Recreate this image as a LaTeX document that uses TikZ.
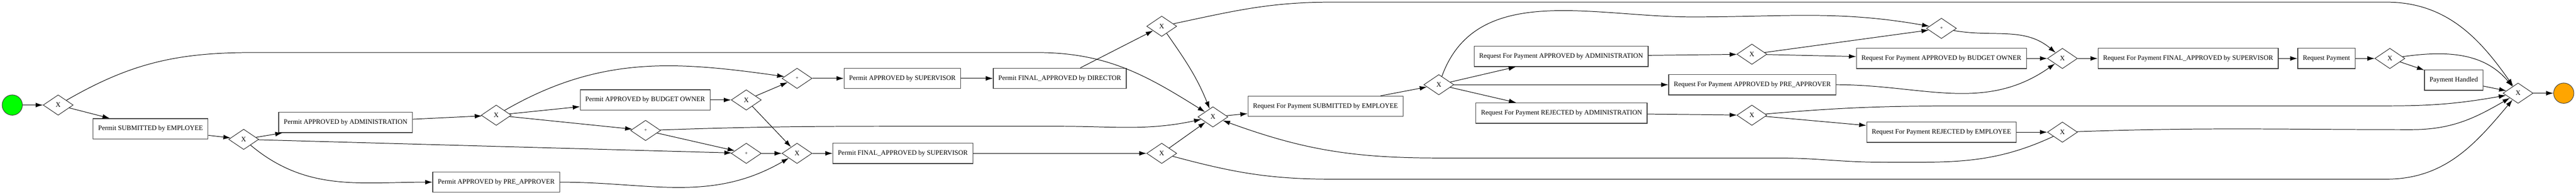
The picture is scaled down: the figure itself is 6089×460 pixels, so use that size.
\documentclass[tikz,border=0pt]{standalone}
\usepackage{fontspec}
\setmainfont{Liberation Serif}
\usetikzlibrary{arrows.meta, shapes.geometric}
\definecolor{endorange}{HTML}{FFA500}
\tikzset{
	task/.style={draw=black!75, line width=0.8pt, fill=white, minimum height=24pt, inner xsep=6pt, inner ysep=0pt, font=\fontsize{8pt}{9pt}\selectfont},
	gate/.style={diamond, draw=black!85, line width=0.6pt, fill=white, minimum width=35.5pt, minimum height=24pt, inner sep=0pt, font=\fontsize{8pt}{9pt}\selectfont},
	andgate/.style={gate, font=\fontsize{6pt}{7pt}\selectfont},
	event/.style={circle, draw=black!75, line width=0.6pt, minimum size=24pt, inner sep=0pt},
	flow/.style={-{Latex[length=8.5pt,width=5.5pt]}, line width=0.6pt}
}
\begin{document}
\begin{tikzpicture}[x=0.5pt, y=0.5pt]
		\useasboundingbox (0,0) rectangle (6089,460);
		\node[event, fill=green] (startEv) at (29,212) {};
		\node[gate] (xa) at (137.5,212) {X};
		\node[task] (subEmp) at (356,156) {Permit SUBMITTED by EMPLOYEE};
		\node[gate] (xb) at (576,131) {X};
		\node[task] (apprAdm) at (817,171) {Permit APPROVED by ADMINISTRATION};
		\node[task] (apprPre) at (1173,30) {Permit APPROVED by PRE\_APPROVER};
		\node[gate] (xc) at (1173,188) {X};
		\node[task] (apprBud) at (1525,224) {Permit APPROVED by BUDGET OWNER};
		\node[andgate] (pb) at (1526,152) {+};
		\node[gate] (xd) at (1764,224) {X};
		\node[andgate] (pa) at (1884,275) {+};
		\node[andgate] (pc) at (1764,98) {+};
		\node[gate] (xe) at (1884,98) {X};
		\node[task] (apprSup) at (2133,275) {Permit APPROVED by SUPERVISOR};
		\node[task] (finDir) at (2505,275) {Permit FINAL\_APPROVED by DIRECTOR};
		\node[task] (finSup) at (2134,98) {Permit FINAL\_APPROVED by SUPERVISOR};
		\node[gate] (xf) at (2746,398) {X};
		\node[gate] (xg) at (2746,98) {X};
		\node[gate] (xm) at (2867,184) {X};
		\node[task] (rfpSub) at (3133,209) {Request For Payment SUBMITTED by EMPLOYEE};
		\node[gate] (xh) at (3401,260) {X};
		\node[task] (rfpAdm) at (3690,327) {Request For Payment APPROVED by ADMINISTRATION};
		\node[task] (rfpPre) at (4142,260) {Request For Payment APPROVED by PRE\_APPROVER};
		\node[task] (rfpRejAdm) at (3691,193) {Request For Payment REJECTED by ADMINISTRATION};
		\node[gate] (xi) at (4141,332) {X};
		\node[andgate] (pd) at (4589,393) {+};
		\node[task] (rfpBud) at (4589,322) {Request For Payment APPROVED by BUDGET OWNER};
		\node[gate] (xj) at (4875,322) {X};
		\node[gate] (xk) at (4141,188) {X};
		\node[task] (rfpRejEmp) at (4589,148) {Request For Payment REJECTED by EMPLOYEE};
		\node[gate] (xl) at (4875,148) {X};
		\node[task] (rfpFin) at (5172,322) {Request For Payment FINAL\_APPROVED by SUPERVISOR};
		\node[task] (reqPay) at (5499,322) {Request Payment};
		\node[gate] (xn) at (5649,322) {X};
		\node[task] (payHand) at (5800,271) {Payment Handled};
		\node[gate] (xend) at (5952,240) {X};
		\node[event, fill=endorange] (endEv) at (6060,240) {};

		\draw[flow] (startEv) -- (xa);
		\draw[flow] (xa) -- (subEmp);
		\draw[flow] (xa) to[out=30,in=180] (600,336) -- (2450,336) to[out=0,in=148] (xm);
		\draw[flow] (subEmp) -- (xb);
		\draw[flow] (xb) -- (apprAdm);
		\draw[flow] (xb) -- (pc);
		\draw[flow] (xb) to[out=-40,in=180] (apprPre);
		\draw[flow] (apprAdm) -- (xc);
		\draw[flow] (xc) to[out=30,in=172] (pa);
		\draw[flow] (xc) -- (apprBud);
		\draw[flow] (xc) -- (pb);
		\draw[flow] (apprBud) -- (xd);
		\draw[flow] (xd) -- (pa);
		\draw[flow] (xd) -- (xe);
		\draw[flow] (pb) -- (pc);
		\draw[flow] (pb) to[out=2,in=180] (2200,162) -- (2500,162) to[out=0,in=192] (xm);
		\draw[flow] (pc) -- (xe);
		\draw[flow] (apprPre) to[out=0,in=210] (xe);
		\draw[flow] (xe) -- (finSup);
		\draw[flow] (pa) -- (apprSup);
		\draw[flow] (apprSup) -- (finDir);
		\draw[flow] (finDir) -- (xf);
		\draw[flow] (finSup) -- (xg);
		\draw[flow] (xf) to[out=-55,in=112] (xm);
		\draw[flow] (xf) to[out=12,in=180] (3150,455) -- (5640,455) to[out=0,in=125] (xend);
		\draw[flow] (xg) -- (xm);
		\draw[flow] (xg) to[out=-15,in=180] (3150,37) -- (5640,37) to[out=0,in=230] (xend);
		\draw[flow] (xm) -- (rfpSub);
		\draw[flow] (rfpSub) -- (xh);
		\draw[flow] (xh) to[out=70,in=180] (4000,420) to[out=0,in=170] (pd);
		\draw[flow] (xh) -- (rfpAdm);
		\draw[flow] (xh) -- (rfpPre);
		\draw[flow] (xh) -- (rfpRejAdm);
		\draw[flow] (rfpAdm) -- (xi);
		\draw[flow] (xi) -- (pd);
		\draw[flow] (xi) -- (rfpBud);
		\draw[flow] (rfpPre) to[out=0,in=215] (xj);
		\draw[flow] (rfpRejAdm) -- (xk);
		\draw[flow] (xk) -- (rfpRejEmp);
		\draw[flow] (xk) to[out=5,in=180] (4650,210) -- (5640,210) to[out=0,in=190] (xend);
		\draw[flow] (pd) to[out=-10,in=140] (xj);
		\draw[flow] (rfpBud) -- (xj);
		\draw[flow] (xj) -- (rfpFin);
		\draw[flow] (rfpFin) -- (reqPay);
		\draw[flow] (reqPay) -- (xn);
		\draw[flow] (xn) -- (payHand);
		\draw[flow] (xn) to[out=8,in=130] (xend);
		\draw[flow] (payHand) -- (xend);
		\draw[flow] (rfpRejEmp) -- (xl);
		\draw[flow] (xl) to[out=2,in=180] (5700,154) to[out=0,in=210] (xend);
		\draw[flow] (xl) to[out=205,in=0] (4450,77) to[out=180,in=0] (4200,87) -- (3400,87) to[out=180,in=-20] (xm);
		\draw[flow] (xend) -- (endEv);
	\end{tikzpicture}
\end{document}
